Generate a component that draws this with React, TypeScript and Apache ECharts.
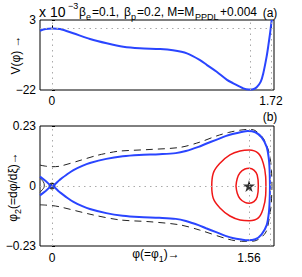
import React, { useEffect, useRef } from "react";
import * as echarts from "echarts";

// Panel (a): potential V(phi) (x 10^-3)
const phiA = [-0.094, -0.05, 0, 0.063, 0.167, 0.299, 0.43, 0.56, 0.69, 0.85, 0.95, 1.06, 1.163, 1.218, 1.294, 1.375, 1.424, 1.503, 1.547, 1.58, 1.608, 1.64, 1.66, 1.686, 1.70, 1.713, 1.726];
const vA = [-0.82, -0.23, 0, -0.21, -1.75, -3.79, -5.32, -6.54, -7.1, -7.36, -7.8, -8.9, -11.3, -13.1, -15.5, -18.4, -19.6, -21.4, -21.8, -21.7, -21.0, -19.0, -16.0, -10.1, -6.0, -1.75, 3];
const xTicksA = [0, 1.72];
const yTicksA = [-22, 0, 3];

// Panel (b): phase portrait
const sepPhi = [-0.095, -0.05, 0, 0.06, 0.12, 0.17, 0.24, 0.30, 0.43, 0.56, 0.69, 0.85, 0.98, 1.06, 1.16, 1.22, 1.30, 1.38, 1.43, 1.50, 1.55, 1.61, 1.66, 1.70, 1.718, 1.724, 1.726];
const sepUpper = [0.036, 0.019, 0, 0.023, 0.045, 0.061, 0.077, 0.088, 0.104, 0.114, 0.119, 0.122, 0.126, 0.134, 0.150, 0.162, 0.177, 0.192, 0.199, 0.207, 0.211, 0.206, 0.186, 0.150, 0.100, 0.049, 0];
const sepLower = [-0.036, -0.019, 0, -0.023, -0.045, -0.061, -0.077, -0.088, -0.104, -0.114, -0.119, -0.122, -0.126, -0.134, -0.150, -0.162, -0.177, -0.192, -0.199, -0.205, -0.208, -0.204, -0.185, -0.150, -0.100, -0.049, 0];

const dashUpPhi = [-0.095, -0.05, 0, 0.063, 0.222, 0.354, 0.459, 0.538, 0.776, 1.013, 1.17, 1.304, 1.396, 1.489, 1.56, 1.607, 1.673, 1.713, 1.728, 1.738, 1.742];
const dashUp = [0.080, 0.076, 0.074, 0.076, 0.098, 0.117, 0.128, 0.134, 0.140, 0.148, 0.168, 0.192, 0.205, 0.214, 0.217, 0.213, 0.183, 0.138, 0.105, 0.060, 0];
const dashLoPhi = [-0.095, 0, 0.063, 0.327, 0.538, 0.776, 1.013, 1.17, 1.396, 1.5, 1.6, 1.69, 1.72, 1.736, 1.742];
const dashLo = [-0.072, -0.075, -0.080, -0.111, -0.130, -0.137, -0.149, -0.169, -0.204, -0.212, -0.211, -0.180, -0.125, -0.070, 0];

const outerRedPhi = [1.265, 1.277, 1.33, 1.409, 1.489, 1.562, 1.634, 1.673, 1.692, 1.694, 1.692, 1.673, 1.634, 1.562, 1.489, 1.409, 1.33, 1.277, 1.265];
const outerRed = [0, 0.049, 0.087, 0.119, 0.134, 0.138, 0.125, 0.087, 0.036, 0, -0.036, -0.085, -0.122, -0.133, -0.130, -0.115, -0.084, -0.047, 0];
const innerRedPhi = [1.457, 1.467, 1.489, 1.528, 1.562, 1.599, 1.625, 1.634, 1.625, 1.599, 1.562, 1.528, 1.489, 1.467, 1.457];
const innerRed = [0, 0.029, 0.051, 0.065, 0.068, 0.061, 0.042, 0, -0.041, -0.060, -0.066, -0.063, -0.049, -0.028, 0];

const smallLoopPhi = [-0.095, -0.069, -0.061, -0.063, -0.069, -0.095];
const smallLoop = [0.030, 0.016, 0.004, -0.005, -0.010, -0.024];

const saddle = [[0, 0]];
const center = [[1.56, 0]];
const xTicksB = [0, 1.56];
const yTicksB = [-0.23, 0, 0.23];

const zip = (a: number[], b: number[]) => a.map((v, i) => [v, b[i]]);
const fmt = (v: number) => (v < 0 ? "\u2212" + String(Math.abs(v)) : String(v));

const FONT = "Liberation Sans, Arial, Helvetica, sans-serif";
const BLUE = "#2a45ff";
const RED = "#f01818";
const STAR = "path://M50,0 L61,35 L98,35 L68,57 L79,91 L50,70 L21,91 L32,57 L2,35 L39,35 Z";

// title pieces: [text, x, size, kind]
const titleParts: [string, number, number, string][] = [
  ["x 10", 39, 14, "m"],
  ["\u22123", 68, 9, "sup"],
  ["\u03b2", 79, 12, "m"],
  ["e", 86, 9, "sub"],
  ["=0.1,", 92, 12, "m"],
  ["\u03b2", 124, 12, "m"],
  ["p", 131, 9, "sub"],
  ["=0.2, M=M", 137, 12, "m"],
  ["PPDL", 195, 9, "sub"],
  ["+0.004", 220, 12, "m"],
];

export default function App() {
  const ref = useRef<HTMLDivElement>(null);
  useEffect(() => {
    if (!ref.current) return;
    const chart = echarts.init(ref.current, undefined, { renderer: "svg" });
    const axisCommon = {
      type: "value" as const,
      splitLine: { show: false },
      axisLine: { show: false },
      axisTick: { show: true, inside: true, length: 3, lineStyle: { color: "#000" } },
    };
    const labelStyle = { color: "#000", fontSize: 12, fontFamily: FONT, showMinLabel: true, showMaxLabel: true, hideOverlap: false };
    const dotted = { color: "#aaa", type: [1.5, 4] as any, width: 1 };
    const lineBase = { type: "line" as const, showSymbol: false, silent: true };
    const rich = {
      a: { fontSize: 12, lineHeight: 14, padding: [0, 0, 3, 0], verticalAlign: "bottom", fontFamily: FONT, fill: "#000" },
      sub: { fontSize: 9, lineHeight: 10, verticalAlign: "bottom", fontFamily: FONT, fill: "#000" },
    };
    const titleY: Record<string, number> = { m: 12, sup: 6, sub: 17 };
    chart.setOption({
      animation: false,
      backgroundColor: "#fff",
      grid: [
        { left: 40, top: 20, width: 234, height: 70, show: true, borderColor: "#000", borderWidth: 1, backgroundColor: "transparent" },
        { left: 40, top: 126, width: 234, height: 120, show: true, borderColor: "#000", borderWidth: 1, backgroundColor: "transparent" },
      ],
      xAxis: [
        { ...axisCommon, gridIndex: 0, min: -0.094, max: 1.744, axisTick: { ...axisCommon.axisTick, customValues: xTicksA }, axisLabel: { ...labelStyle, margin: 5, customValues: xTicksA, formatter: fmt } },
        { ...axisCommon, gridIndex: 1, min: -0.095, max: 1.758, axisTick: { ...axisCommon.axisTick, customValues: xTicksB }, axisLabel: { ...labelStyle, margin: 6, customValues: xTicksB, formatter: fmt } },
      ],
      yAxis: [
        { ...axisCommon, gridIndex: 0, min: -22, max: 3, axisTick: { ...axisCommon.axisTick, customValues: yTicksA }, axisLabel: { ...labelStyle, margin: 4, customValues: yTicksA, formatter: fmt } },
        { ...axisCommon, gridIndex: 1, min: -0.23, max: 0.23, axisTick: { ...axisCommon.axisTick, customValues: yTicksB }, axisLabel: { ...labelStyle, margin: 4, customValues: yTicksB, formatter: fmt } },
      ],
      series: [
        {
          ...lineBase, xAxisIndex: 0, yAxisIndex: 0, data: [],
          markLine: { silent: true, symbol: ["none", "none"], label: { show: false }, lineStyle: dotted, data: [{ xAxis: 0 }, { xAxis: 1.56 }, { xAxis: 1.72 }, { yAxis: 0 }] },
        },
        { ...lineBase, xAxisIndex: 0, yAxisIndex: 0, smooth: 0.3, data: zip(phiA, vA), lineStyle: { color: BLUE, width: 2 } },
        {
          ...lineBase, xAxisIndex: 1, yAxisIndex: 1, data: [],
          markLine: { silent: true, symbol: ["none", "none"], label: { show: false }, lineStyle: dotted, data: [{ xAxis: 0 }, { xAxis: 1.56 }, { xAxis: 1.73 }, { yAxis: 0 }] },
        },
        { type: "scatter", xAxisIndex: 1, yAxisIndex: 1, data: saddle, symbol: "circle", symbolSize: 7, itemStyle: { color: "#111" }, silent: true, z: 1 },
        { ...lineBase, xAxisIndex: 1, yAxisIndex: 1, smooth: 0.3, data: zip(dashUpPhi, dashUp), lineStyle: { color: "#222", width: 1, type: [7, 5] } },
        { ...lineBase, xAxisIndex: 1, yAxisIndex: 1, smooth: 0.3, data: zip(dashLoPhi, dashLo), lineStyle: { color: "#222", width: 1, type: [7, 5] } },
        { ...lineBase, xAxisIndex: 1, yAxisIndex: 1, smooth: 0.4, data: zip(smallLoopPhi, smallLoop), lineStyle: { color: "#333", width: 1 } },
        { ...lineBase, xAxisIndex: 1, yAxisIndex: 1, smooth: 0.4, data: zip(outerRedPhi, outerRed), lineStyle: { color: RED, width: 1.5 } },
        { ...lineBase, xAxisIndex: 1, yAxisIndex: 1, smooth: 0.4, data: zip(innerRedPhi, innerRed), lineStyle: { color: RED, width: 1.5 } },
        { ...lineBase, xAxisIndex: 1, yAxisIndex: 1, smooth: 0.3, data: zip(sepPhi, sepUpper), lineStyle: { color: BLUE, width: 2 }, z: 3 },
        { ...lineBase, xAxisIndex: 1, yAxisIndex: 1, smooth: 0.3, data: zip(sepPhi, sepLower), lineStyle: { color: BLUE, width: 2 }, z: 3 },
        { type: "scatter", xAxisIndex: 1, yAxisIndex: 1, data: center, symbol: STAR, symbolSize: 12, itemStyle: { color: "#000" }, silent: true, z: 4 },
      ],
      graphic: [
        ...titleParts.map(([t, x, s, k]) => ({
          type: "text", x, y: titleY[k],
          style: { text: t, fontSize: s, fontFamily: FONT, fill: "#000", align: "left", verticalAlign: "middle" },
        })),
        { type: "text", x: 270, y: 13, style: { text: "(a)", fontSize: 12, fontFamily: FONT, fill: "#000", align: "center", verticalAlign: "middle" } },
        { type: "text", x: 270, y: 117, style: { text: "(b)", fontSize: 12, fontFamily: FONT, fill: "#000", align: "center", verticalAlign: "middle" } },
        { type: "text", x: 16, y: 55, rotation: Math.PI / 2, style: { text: "V(\u03c6) \u2192", fontSize: 12, fontFamily: FONT, fill: "#000", align: "center", verticalAlign: "middle" } },
        {
          type: "text", x: 15, y: 187, rotation: Math.PI / 2,
          style: {
            text: "{a|\u03c6}{sub|2}{a|(=d\u03c6/d\u03be)\u2192}", align: "center", verticalAlign: "middle",
            rich,
          },
        },
        {
          type: "text", x: 156, y: 256,
          style: {
            text: "{a|\u03c6(=\u03c6}{sub|1}{a|)\u2192}", align: "center", verticalAlign: "middle",
            rich,
          },
        },
      ],
    });
    return () => chart.dispose();
  }, []);
  return <div ref={ref} style={{ position: "fixed", left: 0, top: 0, width: 302, height: 277, background: "#fff" }} />;
}
